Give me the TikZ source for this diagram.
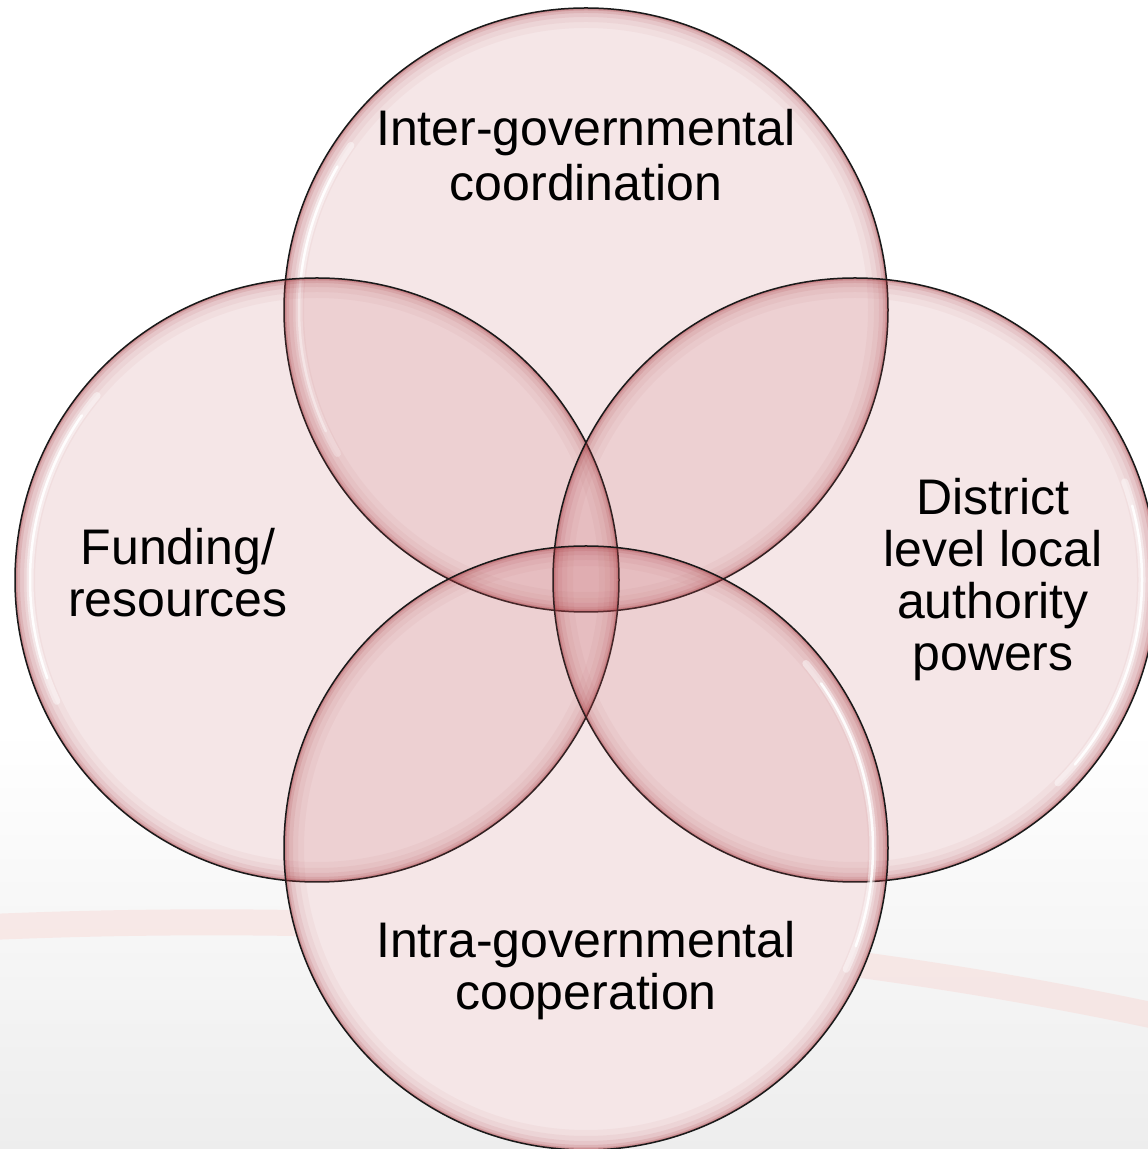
\documentclass[tikz,border=0pt]{standalone}
\usepackage{fontspec}
\setmainfont{Liberation Sans}
\definecolor{vfill}{RGB}{190,80,86}
\definecolor{vrim}{RGB}{160,45,52}
\definecolor{swoosh}{RGB}{250,200,195}
\tikzset{
  venn/.style={circle, inner sep=0pt, minimum size=604pt,
    fill=vfill, fill opacity=0.14, draw=black!90, draw opacity=1, line width=1.5pt,
    path picture={
      \foreach \w/\o in {40/0.04, 28/0.05, 18/0.08, 10/0.12, 5/0.18, 2.5/0.25}{
        \draw[vrim, draw opacity=\o, line width=\w pt]
          (path picture bounding box.center) circle (302pt);}
      \draw[white, draw opacity=0.45, line width=7pt, line cap=round]
        (path picture bounding box.center) ++(#1:287pt)
        arc[start angle=#1, end angle=#1+65, radius=287pt];
      \draw[white, draw opacity=0.9, line width=2.5pt, line cap=round]
        (path picture bounding box.center) ++(#1+5:287pt)
        arc[start angle=#1+5, end angle=#1+60, radius=287pt];
    }},
  base/.style={circle, inner sep=0pt, minimum size=604pt, fill=white},
  lbl/.style={align=center, text=black, font=\fontsize{50}{#1}\selectfont, inner sep=0pt}
}
\begin{document}
\begin{tikzpicture}[x=1pt,y=1pt]
  \useasboundingbox (0,0) rectangle (1148,1149);
  \fill[white] (0,0) rectangle (1148,1149);
  \shade[top color=white, bottom color=black!7] (0,0) rectangle (1148,420);
  \draw[swoosh, draw opacity=0.3, line width=26pt]
    (-10,222) .. controls (420,240) and (820,205) .. (1160,132);

  \node[base] (btop)    at (586,839) {};
  \node[base] (bleft)   at (317,569) {};
  \node[base] (bright)  at (855,569) {};
  \node[base] (bbottom) at (586,301) {};

  \node[venn=145] (top)    at (586,839) {};
  \node[venn=140] (left)   at (317,569) {};
  \node[venn=-45] (right)  at (855,569) {};
  \node[venn=-25] (bottom) at (586,301) {};

  \node[lbl=55] (ttop)    at (586,994) {Inter-governmental\\coordination};
  \node[lbl=52] (tleft)   at (178,576) {Funding/\\resources};
  \node[lbl=52] (tright)  at (993,569) {District\\level local\\authority\\powers};
  \node[lbl=52] (tbottom) at (586,178) {Intra-governmental\\cooperation};
\end{tikzpicture}
\end{document}
